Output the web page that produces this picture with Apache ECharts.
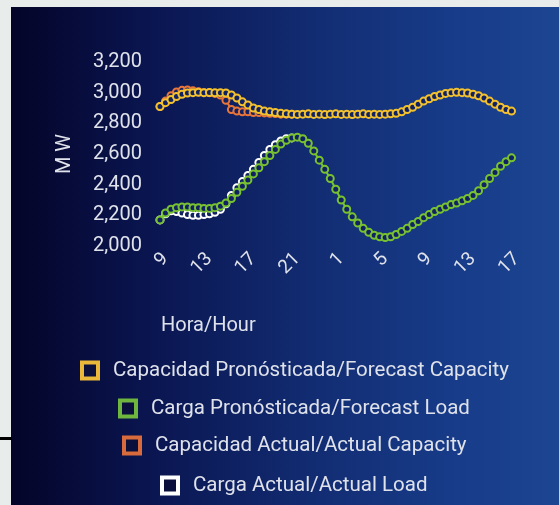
<!DOCTYPE html>
<html>
<head>
<meta charset="utf-8">
<script src="https://cdn.jsdelivr.net/npm/echarts@6/dist/echarts.min.js"></script>
<style>
  html, body { margin: 0; padding: 0; background: #e8edeb; }
  #chart { width: 559px; height: 505px; }
</style>
</head>
<body>
<div id="chart"></div>
<script>
// Half-hourly time slots, 8:30 through 17:00 of the following day
const hours = [
  '8:30','9:00','9:30','10:00','10:30','11:00','11:30','12:00','12:30','13:00','13:30',
  '14:00','14:30','15:00','15:30','16:00','16:30','17:00','17:30','18:00','18:30','19:00',
  '19:30','20:00','20:30','21:00','21:30','22:00','22:30','23:00','23:30',
  '0:00','0:30','1:00','1:30','2:00','2:30','3:00','3:30','4:00','4:30','5:00','5:30',
  '6:00','6:30','7:00','7:30','8:00','8:30','9:00','9:30','10:00','10:30','11:00','11:30',
  '12:00','12:30','13:00','13:30','14:00','14:30','15:00','15:30','16:00','16:30','17:00'
];

// MW
const forecastCapacity = [
  2910, 2935, 2955, 2975, 2990, 2998, 3000, 3002, 3000, 3001, 2999, 3000, 2998,
  2985, 2965, 2940, 2920, 2900, 2890, 2880, 2875, 2870, 2865, 2862, 2860, 2858,
  2860, 2862, 2858, 2860, 2857, 2860, 2862, 2858, 2860, 2857, 2860, 2862, 2858,
  2860, 2858, 2860, 2862, 2865, 2875, 2890, 2905, 2925, 2945, 2960, 2975, 2985,
  2995, 3000, 3002, 3000, 2998, 2990, 2980, 2965, 2945, 2925, 2905, 2890, 2880
];

const forecastLoad = [
  2170, 2215, 2240, 2250, 2255, 2255, 2250, 2250, 2245, 2245, 2250, 2260, 2280,
  2310, 2350, 2390, 2430, 2470, 2510, 2550, 2590, 2630, 2665, 2690, 2705, 2710,
  2700, 2670, 2620, 2560, 2500, 2440, 2370, 2300, 2240, 2190, 2150, 2115, 2090,
  2070, 2060, 2055, 2060, 2075, 2095, 2115, 2140, 2160, 2185, 2205, 2225, 2240,
  2255, 2270, 2280, 2295, 2310, 2330, 2360, 2400, 2440, 2480, 2520, 2550, 2575
];

const actualCapacity = [
  2910, 2945, 2980, 3005, 3015, 3018, 3012, 3006, 3000, 3000, 2995, 2985, 2950,
  2890, 2880, 2875, 2875, 2870, 2870, 2868, 2865, 2864, 2860, 2860, 2860
];

const actualLoad = [
  2170, 2210, 2230, 2225, 2215, 2205, 2200, 2200, 2205, 2210, 2220, 2240, 2275,
  2330, 2380, 2420, 2460, 2500, 2545, 2590, 2630, 2660, 2685, 2700, 2705
];

const seriesNames = [
  'Capacidad Pronósticada/Forecast Capacity',
  'Carga Pronósticada/Forecast Load',
  'Capacidad Actual/Actual Capacity',
  'Carga Actual/Actual Load'
];
const seriesColors = ['#f3c12f', '#78c232', '#e8763a', '#ffffff'];
const legendIconColors = ['#e9b73a', '#6fb63e', '#d86b3c', '#ffffff'];

const textColor = '#dfe2ea';
const fontFamily = 'Roboto, "Noto Sans", sans-serif';
const legendFontSize = 20.5;
const legendIconSize = 16;
const legendTextPad = 10;

function lineSeries(idx, data, z) {
  return {
    name: seriesNames[idx],
    type: 'line',
    data: data,
    z: z,
    smooth: false,
    symbol: 'circle',
    symbolSize: 7,
    showSymbol: true,
    showAllSymbol: true,
    lineStyle: { color: seriesColors[idx], width: 2 },
    itemStyle: { color: '#102262', borderColor: seriesColors[idx], borderWidth: 2 },
    emphasis: { disabled: true }
  };
}

// width of a legend row, so each row can be centred on the panel
const measureCtx = document.createElement('canvas').getContext('2d');
measureCtx.font = legendFontSize + 'px ' + fontFamily;
function rowWidth(text) {
  return legendIconSize + 5 + legendTextPad + measureCtx.measureText(text).width;
}
const legendCenterX = 293;

// one centred legend row per series
const legendTops = [360, 398, 435, 475];
const legends = seriesNames.map((name, i) => ({
  data: [name],
  top: legendTops[i],
  left: Math.round(legendCenterX - rowWidth(name) / 2),
  padding: 0,
  icon: 'rect',
  itemWidth: legendIconSize,
  itemHeight: legendIconSize,
  itemStyle: { color: '#0b0f3c', borderColor: legendIconColors[i], borderWidth: 4 },
  textStyle: { color: textColor, fontSize: legendFontSize, fontFamily: fontFamily, padding: [0, 0, 0, legendTextPad] },
  selectedMode: false
}));

const chart = echarts.init(document.getElementById('chart'), null, { renderer: 'canvas' });
chart.setOption({
  animation: false,
  backgroundColor: '#e8edeb',
  graphic: [
    {
      type: 'rect',
      z: -10,
      shape: { x: 11, y: 7, width: 548, height: 498 },
      style: {
        fill: new echarts.graphic.LinearGradient(0, 0, 1, 0, [
          { offset: 0, color: '#040428' },
          { offset: 0.25, color: '#0a1550' },
          { offset: 0.55, color: '#122c72' },
          { offset: 0.8, color: '#173b88' },
          { offset: 1, color: '#1c4592' }
        ])
      }
    },
    {
      type: 'rect',
      z: -9,
      shape: { x: 0, y: 437, width: 12, height: 3 },
      style: { fill: '#000000' }
    }
  ],
  title: {
    text: 'Hora/Hour',
    left: 156,
    top: 311,
    textStyle: { color: textColor, fontSize: 20, fontWeight: 'normal', fontFamily: fontFamily }
  },
  legend: legends,
  grid: { left: 160, right: 42, top: 62, bottom: 259, containLabel: false },
  xAxis: {
    type: 'category',
    data: hours,
    boundaryGap: false,
    axisLine: { show: false },
    axisTick: { show: false },
    splitLine: { show: false },
    axisLabel: {
      rotate: 45,
      margin: 10,
      color: textColor,
      fontSize: 19,
      fontFamily: fontFamily,
      interval: function (index, value) {
        const parts = value.split(':');
        return parts[1] === '00' && parseInt(parts[0], 10) % 4 === 1;
      },
      formatter: function (value) { return value.split(':')[0]; }
    }
  },
  yAxis: {
    type: 'value',
    min: 2000,
    max: 3200,
    interval: 200,
    name: 'M W',
    nameLocation: 'middle',
    nameGap: 85,
    nameRotate: 90,
    nameTextStyle: { color: textColor, fontSize: 20, fontFamily: fontFamily },
    axisLine: { show: false },
    axisTick: { show: false },
    splitLine: { show: false },
    axisLabel: {
      margin: 18,
      color: textColor,
      fontSize: 20,
      fontFamily: fontFamily,
      formatter: function (v) { return v.toLocaleString('en-US'); }
    }
  },
  series: [
    lineSeries(3, actualLoad, 2),
    lineSeries(2, actualCapacity, 2),
    lineSeries(1, forecastLoad, 3),
    lineSeries(0, forecastCapacity, 3)
  ]
});
</script>
</body>
</html>
